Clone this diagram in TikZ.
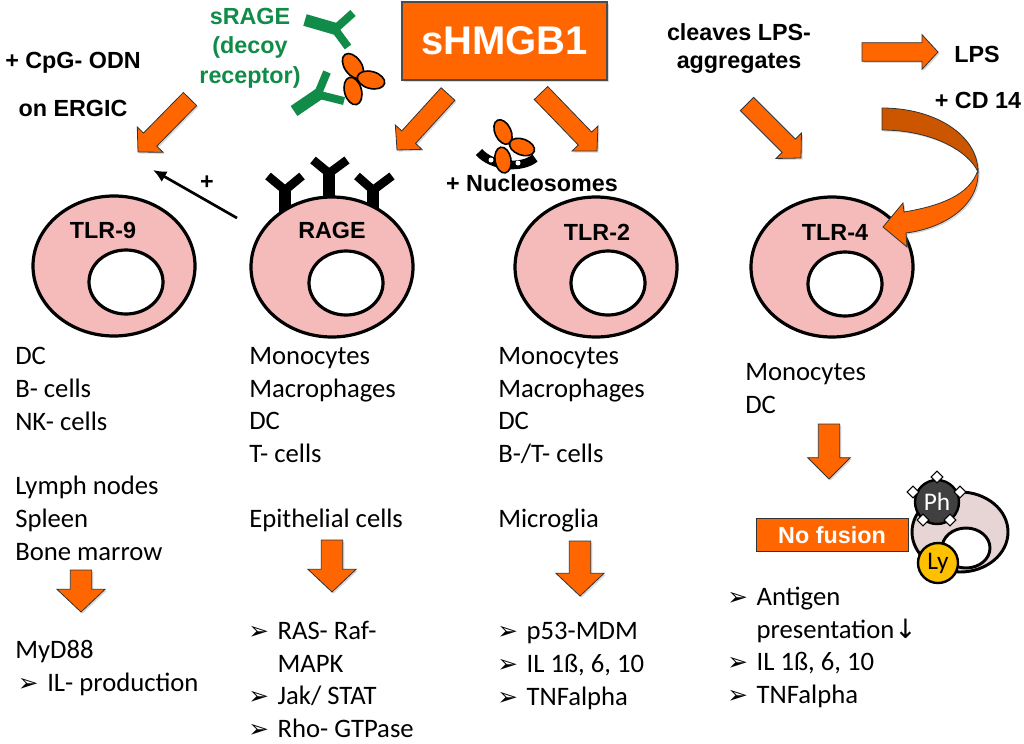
\documentclass[tikz,border=0pt]{standalone}
\usepackage{fontspec}
\setmainfont{Carlito}
\newfontfamily\arialfont{Liberation Sans}
\newfontfamily\dejavu{DejaVu Sans}
\usetikzlibrary{calc,shapes.geometric,shadows,arrows.meta}
\definecolor{hmgorange}{RGB}{255,102,0}
\definecolor{hmgdark}{RGB}{204,85,0}
\definecolor{cellpink}{RGB}{245,186,186}
\definecolor{sragegreen}{RGB}{16,140,72}
\definecolor{ringpink}{RGB}{231,213,214}
\definecolor{phgray}{RGB}{64,64,64}
\definecolor{lyyellow}{RGB}{255,192,0}
\def\blockarrow[#1](#2)(#3)(#4:#5:#6){\coordinate (hb) at ($(#3)!#6!(#2)$);
	\draw[#1] ($(#2)!#4!90:(#3)$) -- ($(hb)!#4!-90:(#2)$) -- ($(hb)!#5!-90:(#2)$) -- (#3) -- ($(hb)!#5!90:(#2)$) -- ($(hb)!#4!90:(#2)$) -- ($(#2)!#4!-90:(#3)$) -- cycle;}
\newcommand{\bulletarrow}{\makebox[22pt][l]{\dejavu\fontsize{18.5}{18.5}\selectfont ➢}}

\begin{document}
\begin{tikzpicture}[x=0.75pt, y=-0.75pt,
	cell/.style={ellipse, draw=black, line width=2.4pt, fill=cellpink, minimum width=121.5pt, minimum height=105pt, inner sep=0pt},
	hole/.style={ellipse, draw=black, line width=2.4pt, fill=white, minimum width=55.5pt, minimum height=48pt, inner sep=0pt},
	lbl/.style={font=\arialfont\bfseries\fontsize{17.5}{22}\selectfont, align=center, inner sep=0pt},
	txt/.style={font=\fontsize{20}{24.4}\selectfont, align=left, anchor=base west, inner sep=0pt},
	barrow/.style={draw=black!80, line width=0.6pt, fill=hmgorange, drop shadow={shadow xshift=1.2pt, shadow yshift=-1.2pt, opacity=0.3}},
	lobe/.style={draw=black, line width=1.2pt, fill=hmgorange}]
		%%%%% START %%%%%
		
		\useasboundingbox (0,0) rectangle (1024,743);
		\fill[white] (0,0) rectangle (1024,743);
		
		% top row
		\node[draw=black!70, line width=0.8pt, fill=hmgorange, minimum width=153.75pt, minimum height=58.5pt, drop shadow={shadow xshift=1.2pt, shadow yshift=-1.2pt, opacity=0.3}] (hmgb) at (504.5,41) {};
		\node[lbl, text=white, font=\arialfont\bfseries\fontsize{30}{30}\selectfont] (hmgbt) at (hmgb) {sHMGB1};
		
		\node[lbl] (cpg) at (73,63) {+ CpG- ODN};
		\node[lbl] (ergic) at (73,108) {on ERGIC};
		\node[lbl, text=sragegreen, font=\arialfont\bfseries\fontsize{17.5}{22.1}\selectfont] (srage) at (250,48) {sRAGE\\(decoy\\receptor)};
		\node[lbl] (nucl) at (532,183) {+ Nucleosomes};
		\node[lbl, font=\arialfont\bfseries\fontsize{17.5}{21}\selectfont] (cleave) at (739,49) {cleaves LPS-\\aggregates};
		\node[lbl] (lps) at (977,54) {LPS};
		\node[lbl] (cd14) at (978,100) {+ CD 14};
		\node[lbl] (plus) at (207,183) {+};
		
		% decoy receptors
		\draw[sragegreen, line width=9pt] (305,20) -- (336,29);
		\draw[sragegreen, line width=6pt] (334,30) -- (353,13);
		\draw[sragegreen, line width=6pt] (334,28) -- (348,47);
		\draw[sragegreen, line width=9pt] (294,111) -- (319,94);
		\draw[sragegreen, line width=6pt] (317,96) -- (327,72);
		\draw[sragegreen, line width=6pt] (316,94) -- (344,101);
		
		\coordinate (m1) at (353,66);
		\coordinate (m2) at (371,80);
		\coordinate (m3) at (353,91);
		\draw[lobe, rotate around={-55:(m1)}] (m1) ellipse [x radius=14, y radius=8.5];
		\draw[lobe, rotate around={-15:(m2)}] (m2) ellipse [x radius=14, y radius=8.5];
		\draw[lobe, rotate around={-75:(m3)}] (m3) ellipse [x radius=14, y radius=8.5];
		
		% nucleosome
		\draw[line width=6.5pt] (479,152) .. controls (492,167) and (522,169) .. (535,158);
		\fill[white] (491,160) circle (2.5);
		\fill[white] (518,163) circle (2.5);
		\coordinate (n1) at (503,132);
		\coordinate (n2) at (522,147);
		\coordinate (n3) at (503,160);
		\draw[lobe, rotate around={-65:(n1)}] (n1) ellipse [x radius=13, y radius=8];
		\draw[lobe, rotate around={-20:(n2)}] (n2) ellipse [x radius=13, y radius=8];
		\draw[lobe, rotate around={-80:(n3)}] (n3) ellipse [x radius=13, y radius=8];
		
		% cells
		\node[cell] (tlr9) at (114,266) {};
		\node[hole] (tlr9h) at (126,282) {};
		\node[lbl] (tlr9t) at (103,230) {TLR-9};
		
		\draw[line width=8.5pt] (285,214) -- (285,189);
		\draw[line width=6.5pt] (286,191) -- (268,176);
		\draw[line width=6.5pt] (284,191) -- (302,176);
		\draw[line width=8.5pt] (329,202) -- (329,172);
		\draw[line width=6.5pt] (330,174) -- (313,160);
		\draw[line width=6.5pt] (328,174) -- (347,160);
		\draw[line width=8.5pt] (373,211) -- (373,189);
		\draw[line width=6.5pt] (374,191) -- (357,176);
		\draw[line width=6.5pt] (372,191) -- (392,176);
		\node[cell] (rage) at (332,267) {};
		\node[hole] (rageh) at (346,283) {};
		\node[lbl] (raget) at (332,230) {RAGE};
		
		\node[cell] (tlr2) at (596,267) {};
		\node[hole] (tlr2h) at (608,283) {};
		\node[lbl] (tlr2t) at (597,232) {TLR-2};
		
		\node[cell] (tlr4) at (832,267) {};
		\node[hole] (tlr4h) at (845,284) {};
		\node[lbl] (tlr4t) at (835,232) {TLR-4};
		
		% arrows
		\coordinate (a9t) at (190,99);
		\coordinate (a9h) at (138,152);
		\coordinate (agt) at (448,94);
		\coordinate (agh) at (397,150);
		\coordinate (a2t) at (541,93);
		\coordinate (a2h) at (597,151);
		\coordinate (a4t) at (747,104);
		\coordinate (a4h) at (801,158);
		\coordinate (lpt) at (862,52);
		\coordinate (lph) at (938,52);
		\blockarrow[barrow](a9t)(a9h)(7pt:13.5pt:13pt)
		\blockarrow[barrow](agt)(agh)(7pt:13.5pt:13pt)
		\blockarrow[barrow](a2t)(a2h)(7pt:13.5pt:13pt)
		\blockarrow[barrow](a4t)(a4h)(7pt:13.5pt:13pt)
		\blockarrow[barrow](lpt)(lph)(7pt:13pt:12pt)
		
		\draw[barrow, fill=hmgdark] (882,108) .. controls (935,108) and (978,135) .. (978,172) .. controls (968,150) and (930,130) .. (882,130) -- cycle;
		\draw[barrow] (978,170) .. controls (980,205) and (945,228) .. (906,233) -- (907,247) -- (883,227) -- (903,203) -- (904,212) .. controls (940,206) and (970,195) .. (978,170) -- cycle;
		
		\coordinate (rg) at (237,218);
		\coordinate (t9) at (153,170);
		\draw[line width=2pt, -{Latex[length=10pt, width=9pt]}] (rg) -- (t9);
		
		% texts under cells
		\node[txt] (c1a) at (15,430) {DC\\B- cells\\NK- cells};
		\node[txt] (c1b) at (15,560) {Lymph nodes\\Spleen\\Bone marrow};
		\node[txt] (c1c) at (15,691.5) {MyD88\\\hspace*{2pt}\bulletarrow IL- production};
		
		\node[txt] (c2a) at (249,462.5) {Monocytes\\Macrophages\\DC\\T- cells};
		\node[txt] (c2b) at (249,527) {Epithelial cells};
		\node[txt] (c2c) at (248,737.5) {\bulletarrow RAS- Raf-\\\hspace*{22pt}MAPK\\\bulletarrow Jak/ STAT\\\bulletarrow Rho- GTPase};
		
		\node[txt] (c3a) at (498,462.5) {Monocytes\\Macrophages\\DC\\B-/T- cells};
		\node[txt] (c3b) at (498,527) {Microglia};
		\node[txt] (c3c) at (497,705) {\bulletarrow p53-MDM\\\bulletarrow IL 1ß, 6, 10\\\bulletarrow TNFalpha};
		
		\node[txt] (c4a) at (745,413.5) {Monocytes\\DC};
		\node[txt] (c4c) at (727,703.5) {\bulletarrow Antigen\\\hspace*{22pt}presentation{\dejavu ↓}\\\bulletarrow IL 1ß, 6, 10\\\bulletarrow TNFalpha};
		
		\coordinate (d1t) at (81,570);
		\coordinate (d1h) at (81,612);
		\coordinate (d2t) at (332,540);
		\coordinate (d2h) at (332,592);
		\coordinate (d3t) at (580,541);
		\coordinate (d3h) at (580,596);
		\coordinate (d4t) at (829,424);
		\coordinate (d4h) at (829,479);
		\blockarrow[barrow](d1t)(d1h)(8pt:18pt:17pt)
		\blockarrow[barrow](d2t)(d2h)(8pt:18pt:17pt)
		\blockarrow[barrow](d3t)(d3h)(8pt:18pt:17pt)
		\blockarrow[barrow](d4t)(d4h)(8pt:16pt:16pt)
		
		% phagosome
		\node[draw=black!80, line width=0.6pt, fill=hmgorange, minimum width=114pt, minimum height=25pt, inner sep=0pt] (nofus) at (832,535) {};
		\node[lbl, text=white] (nofust) at (nofus) {No fusion};
		\node[ellipse, draw=black, line width=2.2pt, fill=ringpink, minimum width=72pt, minimum height=60pt, inner sep=0pt] (ring) at (960,532) {};
		\node[ellipse, draw=black, line width=2.2pt, fill=white, minimum width=36pt, minimum height=30pt, inner sep=0pt] (ringh) at (966,548) {};
		\node[circle, draw=black, line width=1.8pt, fill=lyyellow, minimum size=30pt, inner sep=0pt, font=\fontsize{19}{19}\selectfont] (ly) at (938,563) {Ly};
		\node[circle, draw=black, line width=1.8pt, fill=phgray, text=white, minimum size=33pt, inner sep=0pt, font=\fontsize{19}{19}\selectfont] (ph) at (937,502) {Ph};
		\foreach \p in {(913,492),(937,477),(960,492),(923,520),(950,520)}
			\node[diamond, draw=black, line width=0.8pt, fill=white, minimum size=9pt, inner sep=0pt] at \p {};
		
		%%%%% END %%%%%
\end{tikzpicture}
\end{document}
